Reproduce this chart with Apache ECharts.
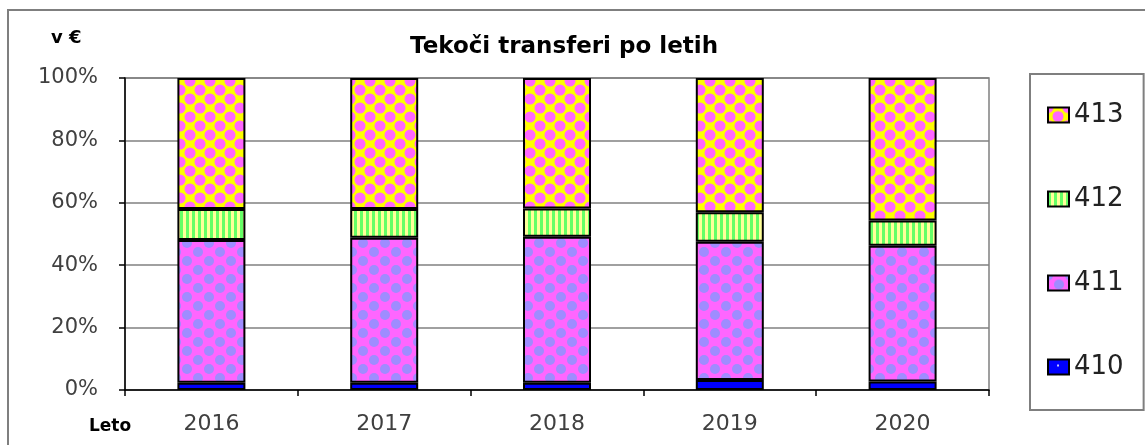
<!DOCTYPE html>
<html>
<head>
<meta charset="utf-8">
<script src="https://cdn.jsdelivr.net/npm/echarts@6/dist/echarts.min.js"></script>
<style>
  html, body { margin: 0; padding: 0; background: #fff; }
  #chart { width: 1145px; height: 445px; }
</style>
</head>
<body>
<div id="chart"></div>
<script>
// podatki (delež v %)
var years = ['2016', '2017', '2018', '2019', '2020'];
var s410 = [2.3, 2.3, 2.3, 3.2, 2.7];
var s411 = [45.8, 46.5, 46.8, 44.3, 43.5];
var s412 = [9.9, 9.2, 9.1, 9.5, 8.1];
var s413 = [42.0, 42.0, 41.8, 43.0, 45.7];
var legendNames = ['413', '412', '411', '410'];

// vzorci za polnila
function dots(w, h, bg, fg, r) {
  var c = document.createElement('canvas');
  c.width = w; c.height = h;
  var ctx = c.getContext('2d');
  ctx.fillStyle = bg;
  ctx.fillRect(0, 0, w, h);
  ctx.fillStyle = fg;
  [[0, 0], [w, 0], [0, h], [w, h], [w / 2, h / 2]].forEach(function (p) {
    ctx.beginPath();
    ctx.arc(p[0], p[1], r, 0, Math.PI * 2);
    ctx.fill();
  });
  return { image: c, repeat: 'repeat' };
}
function stripes() {
  var c = document.createElement('canvas');
  c.width = 6; c.height = 6;
  var ctx = c.getContext('2d');
  ctx.fillStyle = '#66ff66';
  ctx.fillRect(0, 0, 6, 6);
  ctx.fillStyle = '#ffff99';
  ctx.fillRect(3, 0, 3, 6);
  return { image: c, repeat: 'repeat' };
}
function blueDots() {
  var c = document.createElement('canvas');
  c.width = 20; c.height = 12;
  var ctx = c.getContext('2d');
  ctx.fillStyle = '#0000ff';
  ctx.fillRect(0, 0, 20, 12);
  ctx.fillStyle = '#ccccff';
  ctx.fillRect(9, 5, 2, 2);
  return { image: c, repeat: 'repeat' };
}

var fill413 = dots(20, 18, '#ffff00', '#ff66ff', 5.5);
var fill412 = stripes();
var fill411 = dots(22, 18, '#ff66ff', '#9f8cff', 5);
var fill410 = blueDots();

function bar(name, data, color) {
  return {
    name: name,
    type: 'bar',
    stack: 'skupaj',
    barWidth: 68,
    data: data,
    itemStyle: { color: color, borderColor: '#000', borderWidth: 2 }
  };
}

var chart = echarts.init(document.getElementById('chart'));
chart.setOption({
  animation: false,
  backgroundColor: '#fff',
  textStyle: { fontFamily: 'DejaVu Sans' },
  title: [
    {
      text: 'Tekoči transferi po letih',
      left: 559, top: 31, textAlign: 'center',
      textStyle: { fontSize: 23, fontWeight: 'bold', color: '#000', fontFamily: 'DejaVu Sans' }
    },
    {
      text: 'v €',
      left: 46, top: 24,
      textStyle: { fontSize: 18, fontWeight: 'bold', color: '#000', fontFamily: 'DejaVu Sans' }
    },
    {
      text: 'Leto',
      left: 84, top: 413,
      textStyle: { fontSize: 17, fontWeight: 'bold', color: '#000', fontFamily: 'DejaVu Sans' }
    }
  ],
  graphic: [
    {
      type: 'rect', z: -10, silent: true,
      shape: { x: 8, y: 10, width: 1300, height: 600 },
      style: { fill: null, stroke: '#7f7f7f', lineWidth: 2 }
    }
  ],
  legend: {
    data: legendNames,
    orient: 'vertical',
    icon: 'rect',
    left: 1030, top: 74,
    padding: [27, 20, 29, 17],
    itemGap: 56,
    itemWidth: 21, itemHeight: 15,
    borderColor: '#7f7f7f', borderWidth: 2,
    itemStyle: { borderColor: '#000', borderWidth: 2 },
    textStyle: { fontSize: 26, color: '#222', lineHeight: 28, fontFamily: 'DejaVu Sans' }
  },
  grid: {
    left: 125, right: 156, top: 78, bottom: 55,
    show: true, borderColor: '#808080', borderWidth: 1.5
  },
  xAxis: {
    type: 'category',
    data: years,
    axisLine: { lineStyle: { color: '#000', width: 1.5 } },
    axisTick: { show: true, length: 6, lineStyle: { color: '#000', width: 1.5 } },
    axisLabel: { fontSize: 22, color: '#404040', margin: 23 }
  },
  yAxis: {
    type: 'value',
    min: 0, max: 100, interval: 20,
    axisLine: { show: true, lineStyle: { color: '#000', width: 1.5 } },
    axisTick: { show: true, length: 6, lineStyle: { color: '#000', width: 1.5 } },
    axisLabel: { fontSize: 21, color: '#404040', margin: 27, formatter: '{value}%' },
    splitLine: { lineStyle: { color: '#808080', width: 1.5 } }
  },
  series: [
    bar('410', s410, fill410),
    bar('411', s411, fill411),
    bar('412', s412, fill412),
    bar('413', s413, fill413)
  ]
});
</script>
</body>
</html>
